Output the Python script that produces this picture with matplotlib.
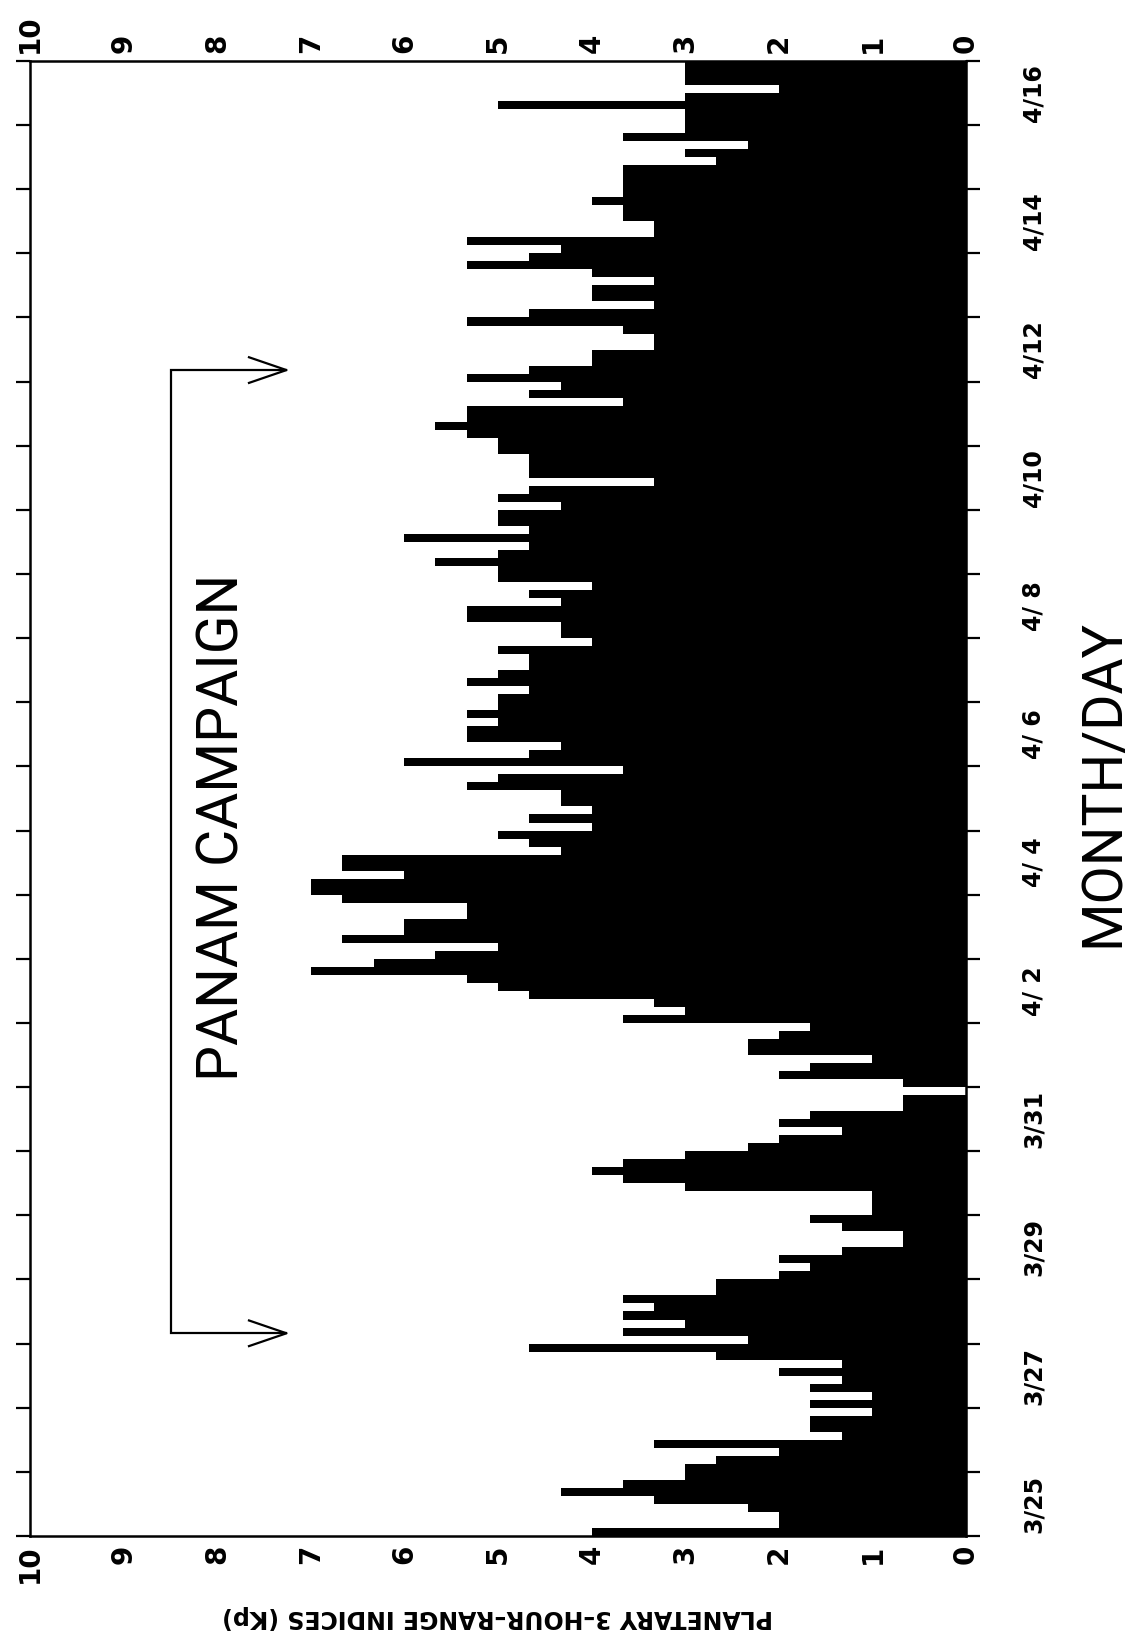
import matplotlib
matplotlib.use("Agg")
import matplotlib.pyplot as plt
import numpy as np

# Planetary Kp index, 3-hour values, 3/25 00UT -> 4/17 00UT (8 values a day)
kp = [
    4, 2, 2, 2.33, 3.33, 4.33, 3.67, 3,            # 3/25
    3, 2.67, 2, 3.33, 1.33, 1.67, 1.67, 1,         # 3/26
    1.67, 1, 1.67, 1.33, 2, 1.33, 2.67, 4.67,      # 3/27
    2.33, 3.67, 3, 3.67, 3.33, 3.67, 2.67, 2.67,   # 3/28
    2, 1.67, 2, 1.33, 0.67, 0.67, 1.33, 1.67,      # 3/29
    1, 1, 1, 3, 3.67, 4, 3.67, 3,                  # 3/30
    2.33, 2, 1.33, 2, 1.67, 0.67, 0.67, 0,         # 3/31
    0.67, 2, 1.67, 1, 2.33, 2.33, 2, 1.67,         # 4/1
    3.67, 3, 3.33, 4.67, 5, 5.33, 7, 6.33,         # 4/2
    5.67, 5, 6.67, 6, 6, 5.33, 5.33, 6.67,         # 4/3
    7, 7, 6, 6.67, 6.67, 4.33, 4.67, 5,            # 4/4
    4, 4.67, 4, 4.33, 4.33, 5.33, 5, 3.67,         # 4/5
    6, 4.67, 4.33, 5.33, 5.33, 5, 5.33, 5,         # 4/6
    5, 4.67, 5.33, 5, 4.67, 4.67, 5, 4,            # 4/7
    4.33, 4.33, 5.33, 5.33, 4.33, 4.67, 4, 5,      # 4/8
    5, 5.67, 5, 4.67, 6, 4.67, 5, 5,               # 4/9
    4.33, 5, 4.67, 3.33, 4.67, 4.67, 4.67, 5,      # 4/10
    5, 5.33, 5.67, 5.33, 5.33, 3.67, 4.67, 4.33,   # 4/11
    5.33, 4.67, 4, 4, 3.33, 3.33, 3.67, 5.33,      # 4/12
    4.67, 3.33, 4, 4, 3.33, 4, 5.33, 4.67,         # 4/13
    4.33, 5.33, 3.33, 3.33, 3.67, 3.67, 4, 3.67,   # 4/14
    3.67, 3.67, 3.67, 2.67, 3, 2.33, 3.67, 3,      # 4/15
    3, 3, 5, 3, 2, 3, 3, 3,                        # 4/16
]
n_days = 23
date_labels = ["3/25", "3/27", "3/29", "3/31", "4/ 2", "4/ 4",
               "4/ 6", "4/ 8", "4/10", "4/12", "4/14", "4/16"]
kp_ticks = list(range(11))

# campaign window, days after 3/25 00UT
campaign_start = 3.16
campaign_end = 18.18

fig = plt.figure(figsize=(11.43, 16.48), dpi=100)
ax = fig.add_axes([0.0262, 0.068, 0.819, 0.895])

# one filled step outline, so no seams between neighbouring bars
edges = np.arange(len(kp) + 1) * 0.125
ax.stairs(kp, edges, baseline=0, fill=True, orientation="horizontal",
          color="black", linewidth=0)

ax.set_xlim(10, 0)
ax.set_ylim(0, n_days)

# Kp axis (reads across the page, labels on both sides)
ax.set_xticks(kp_ticks)
ax.set_xticklabels([str(k) for k in kp_ticks])
ax.tick_params(axis="x", length=0, top=True, labeltop=True, bottom=True,
               labelbottom=True, labelsize=20, pad=6, labelrotation=90)
for lab in ax.get_xticklabels():
    lab.set_fontweight("bold")

# day ticks
ax.set_yticks(range(n_days + 1))
ax.set_yticklabels([])
ax.set_yticks([2 * i + 0.5 for i in range(len(date_labels))], minor=True)
ax.set_yticklabels(date_labels, minor=True, rotation=90, fontsize=17,
                   fontweight="bold", va="center")
ax.tick_params(axis="y", which="major", direction="out", length=10, width=1.6,
               left=True, right=True)
ax.tick_params(axis="y", which="minor", length=0, left=False, right=True,
               labelleft=False, labelright=True, pad=40)

for s in ax.spines.values():
    s.set_linewidth(1.8)

# campaign bracket with arrows
bx = 8.49
tip = 7.26
arm = 7.66
ax.plot([tip, bx, bx, tip], [campaign_end, campaign_end, campaign_start, campaign_start],
        color="black", lw=1.6, solid_joinstyle="miter")
for yy in (campaign_start, campaign_end):
    ax.plot([arm, tip, arm], [yy + 0.2, yy, yy - 0.2], color="black", lw=1.6)

fig.text(0.195, 0.498, "PANAM CAMPAIGN", rotation=90, fontsize=41,
         family="Roboto", fontweight="normal", ha="center", va="center")
fig.text(0.965, 0.525, "MONTH/DAY", rotation=90, fontsize=40,
         family="Roboto", fontweight="normal", ha="center", va="center")
fig.text(0.4357, 0.0188, "PLANETARY 3\u2013HOUR\u2013RANGE INDICES (Kp)", rotation=180,
         fontsize=17, fontweight="bold", ha="center", va="center")

fig.savefig("out.png", dpi=100)
